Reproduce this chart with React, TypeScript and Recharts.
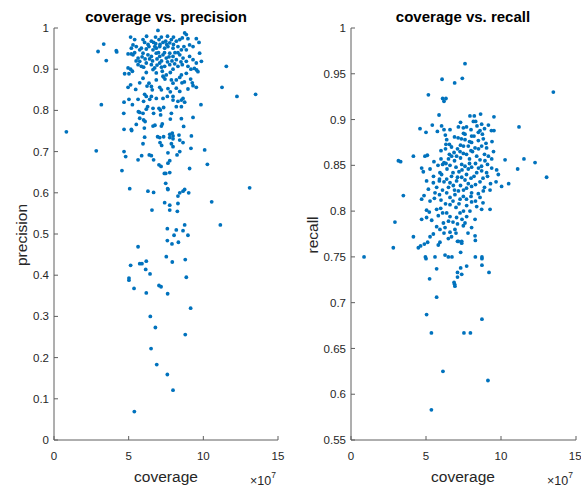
import React from 'react';
import { ScatterChart, Scatter, XAxis, YAxis } from 'recharts';

// coverage (x 1e7) vs precision
const precisionOutliers: [number, number][] = [
  [0.83, 0.748], [2.83, 0.702], [2.95, 0.943], [3.33, 0.961], [3.5, 0.921], [3.17, 0.814], [4.17, 0.945], [4.2, 0.942],
  [4.55, 0.654], [5.07, 0.61], [11.54, 0.907], [11.25, 0.856], [12.25, 0.834], [13.5, 0.839], [13.1, 0.612],
  [11.14, 0.522], [10.56, 0.578], [10.27, 0.669], [10.09, 0.704], [9.84, 0.814],
];
const precisionLow: [number, number][] = [
  [5.63, 0.469], [5.13, 0.424], [5.74, 0.428], [5.89, 0.428], [6.18, 0.434], [6.14, 0.414], [6.43, 0.403], [5.02, 0.393],
  [5.02, 0.388], [5.36, 0.368], [6.18, 0.357], [7.03, 0.375], [7.17, 0.372], [7.61, 0.355], [7.52, 0.445], [7.92, 0.432],
  [8.79, 0.438], [8.86, 0.395], [9.15, 0.32], [8.79, 0.256], [6.45, 0.3], [6.79, 0.273], [6.5, 0.222], [6.88, 0.183],
  [7.59, 0.159], [7.97, 0.121], [5.38, 0.069],
];
const precisionMid: [number, number][] = [
  [7.59, 0.484], [7.9, 0.476], [8.33, 0.48], [8.04, 0.497], [8.97, 0.497], [7.59, 0.513], [8.19, 0.51], [8.75, 0.522],
  [8.64, 0.508], [6.56, 0.558], [7.75, 0.558], [8.26, 0.555], [8.3, 0.574], [7.41, 0.576], [7.75, 0.57], [8.3, 0.592],
  [8.42, 0.6], [8.64, 0.604], [8.75, 0.608], [9.02, 0.6], [6.29, 0.604], [6.67, 0.601], [7.48, 0.623], [7.61, 0.61],
  [7.63, 0.608], [9.08, 0.659], [9.17, 0.708], [7.39, 0.647], [7.48, 0.647], [7.75, 0.649], [7.03, 0.668], [7.17, 0.664],
  [7.63, 0.672], [7.75, 0.678], [8.24, 0.692], [8.42, 0.7], [7.63, 0.697], [4.69, 0.7], [4.8, 0.688], [5.63, 0.68],
  [5.87, 0.69], [6.38, 0.692], [6.52, 0.69], [6.67, 0.68],
];
const precisionUpperMid: [number, number][] = [
  [4.69, 0.754], [5.18, 0.754], [5.2, 0.751], [4.67, 0.793], [5.51, 0.766], [6.0, 0.777], [6.1, 0.773], [6.05, 0.757],
  [5.96, 0.719], [6.07, 0.735], [6.63, 0.762], [6.76, 0.764], [7.25, 0.767], [7.19, 0.762], [6.94, 0.736], [7.08, 0.734],
  [7.34, 0.736], [7.1, 0.722], [7.21, 0.715], [7.75, 0.742], [7.92, 0.745], [7.97, 0.738], [7.75, 0.734], [7.97, 0.731],
  [8.37, 0.74], [8.42, 0.728], [7.86, 0.719], [7.97, 0.712], [8.64, 0.722], [8.68, 0.761], [9.2, 0.738], [8.53, 0.78],
  [7.79, 0.779], [9.31, 0.783], [5.74, 0.781],
];
const precisionHigh: [number, number][] = [
  [4.96, 0.903], [5.13, 0.9], [4.73, 0.889], [5.02, 0.889], [5.25, 0.895], [4.96, 0.856], [5.02, 0.827], [4.69, 0.82],
  [5.25, 0.814], [5.13, 0.862], [5.63, 0.827], [5.65, 0.797], [5.74, 0.795], [6.07, 0.839], [6.18, 0.834], [6.0, 0.822],
  [5.96, 0.793], [6.41, 0.827], [6.27, 0.809], [6.63, 0.805], [6.85, 0.829], [7.03, 0.805], [7.12, 0.801], [7.34, 0.807],
  [7.3, 0.829], [7.59, 0.834], [7.08, 0.856], [7.19, 0.85], [6.58, 0.85], [6.36, 0.866], [6.52, 0.858], [6.85, 0.874],
  [7.34, 0.881], [7.43, 0.876], [7.86, 0.874], [7.97, 0.866], [8.19, 0.874], [8.19, 0.854], [7.97, 0.834], [7.97, 0.825],
  [8.53, 0.825], [8.64, 0.829], [8.75, 0.82], [8.42, 0.846], [8.97, 0.852], [8.57, 0.867], [8.73, 0.869], [9.26, 0.867],
  [9.31, 0.86], [9.53, 0.856], [9.15, 0.876], [9.4, 0.902], [9.55, 0.898], [9.64, 0.894], [9.17, 0.9], [8.86, 0.89],
  [8.53, 0.886], [8.42, 0.88], [7.97, 0.9], [7.79, 0.892], [7.52, 0.886], [7.25, 0.895], [7.3, 0.883], [6.85, 0.891],
  [6.63, 0.899], [6.18, 0.892], [5.96, 0.878], [5.74, 0.867], [5.47, 0.851], [6.23, 0.859], [7.63, 0.853], [7.79, 0.845],
  [6.52, 0.834], [8.3, 0.822], [8.19, 0.809], [7.86, 0.793], [8.53, 0.809], [7.14, 0.789], [6.67, 0.793], [6.18, 0.803],
];
const precisionTop: [number, number][] = [
  [6.96, 0.994], [8.75, 0.988], [8.86, 0.984], [5.13, 0.978], [5.4, 0.972], [5.96, 0.972], [6.07, 0.965], [6.52, 0.968],
  [6.67, 0.965], [6.81, 0.962], [7.03, 0.972], [7.19, 0.978], [7.48, 0.968], [7.75, 0.964], [7.86, 0.972], [8.19, 0.968],
  [8.42, 0.972], [8.59, 0.976], [8.97, 0.974], [9.53, 0.974], [9.71, 0.965], [5.29, 0.959], [5.51, 0.955], [5.18, 0.951],
  [5.74, 0.947], [5.85, 0.951], [6.18, 0.949], [6.36, 0.955], [6.63, 0.947], [6.85, 0.951], [7.08, 0.955], [7.41, 0.951],
  [7.63, 0.955], [7.97, 0.951], [8.3, 0.955], [8.53, 0.947], [8.86, 0.947], [9.08, 0.959], [9.31, 0.955], [9.75, 0.939],
  [9.87, 0.919], [4.96, 0.937], [5.18, 0.937], [5.29, 0.935], [5.63, 0.927], [5.74, 0.919], [5.96, 0.939], [6.29, 0.935],
  [6.52, 0.931], [6.85, 0.939], [7.08, 0.931], [7.3, 0.935], [7.52, 0.927], [7.75, 0.939], [7.97, 0.931], [8.19, 0.923],
  [8.42, 0.935], [8.64, 0.927], [8.86, 0.919], [9.08, 0.931], [9.31, 0.923], [9.53, 0.915], [5.63, 0.911], [5.85, 0.907],
  [6.18, 0.915], [6.52, 0.911], [6.74, 0.903], [7.08, 0.915], [7.41, 0.907], [7.75, 0.911], [8.08, 0.913], [8.3, 0.907],
  [8.59, 0.911], [8.97, 0.907], [6.4, 0.925], [6.6, 0.92], [6.9, 0.925], [7.0, 0.94], [7.2, 0.92], [7.4, 0.94],
  [7.6, 0.918], [7.7, 0.93], [7.1, 0.96], [6.75, 0.955], [6.3, 0.96], [7.3, 0.965], [7.55, 0.96], [8.0, 0.96],
  [8.1, 0.94], [8.3, 0.94], [6.1, 0.925], [5.9, 0.93], [6.0, 0.905], [6.9, 0.91], [7.2, 0.905], [7.9, 0.92],
  [8.5, 0.918], [5.4, 0.94], [5.5, 0.92], [8.7, 0.955], [8.0, 0.978], [7.6, 0.98], [6.8, 0.978], [6.2, 0.98],
];

// coverage (x 1e7) vs recall
const recallSparse: [number, number][] = [
  [7.6, 0.961], [6.07, 0.944], [7.42, 0.945], [6.91, 0.94], [5.16, 0.927], [6.11, 0.923], [6.33, 0.923], [6.2, 0.92],
  [13.49, 0.93], [5.87, 0.905], [4.6, 0.89], [5.0, 0.886], [5.42, 0.894], [6.04, 0.893], [6.2, 0.889], [5.76, 0.887],
  [6.29, 0.883], [6.38, 0.878], [6.33, 0.873], [6.56, 0.873], [7.14, 0.88], [7.36, 0.879], [7.16, 0.892], [7.49, 0.891],
  [7.93, 0.904], [8.22, 0.904], [8.64, 0.906], [8.16, 0.898], [8.31, 0.898], [8.71, 0.895], [9.16, 0.894], [9.53, 0.903],
  [9.36, 0.888], [9.53, 0.888], [11.2, 0.892], [4.16, 0.86], [3.16, 0.855], [3.31, 0.854], [3.49, 0.817], [2.93, 0.788],
  [4.16, 0.772], [10.27, 0.856], [11.11, 0.846], [11.53, 0.857], [12.27, 0.853], [13.04, 0.837], [10.51, 0.83],
  [10.04, 0.827], [9.67, 0.832],
];
const recallCore: [number, number][] = [
  [7.6, 0.884], [8.04, 0.882], [8.49, 0.886], [8.76, 0.884], [7.6, 0.878], [8.04, 0.875], [8.49, 0.877], [8.82, 0.879],
  [7.82, 0.871], [8.27, 0.869], [8.71, 0.871], [9.04, 0.869], [4.93, 0.86], [5.09, 0.861], [4.71, 0.847], [4.82, 0.843],
  [5.27, 0.846], [5.53, 0.854], [6.11, 0.851], [6.2, 0.853], [6.33, 0.852], [5.93, 0.842], [6.04, 0.84], [6.56, 0.862],
  [6.71, 0.86], [6.87, 0.864], [7.04, 0.86], [7.27, 0.865], [7.49, 0.863], [7.38, 0.851], [7.6, 0.849], [7.82, 0.846],
  [8.04, 0.848], [8.38, 0.86], [8.6, 0.856], [8.93, 0.855], [9.16, 0.86], [9.38, 0.857], [8.38, 0.842], [8.71, 0.844],
  [9.04, 0.842], [9.38, 0.847], [9.71, 0.845], [9.82, 0.84], [5.04, 0.833], [5.16, 0.824], [5.49, 0.831], [5.71, 0.826],
  [5.89, 0.833], [4.71, 0.813], [4.87, 0.817], [5.27, 0.811], [5.56, 0.814], [5.04, 0.801], [5.22, 0.799], [5.71, 0.802],
  [5.98, 0.803], [6.11, 0.798], [6.38, 0.835], [6.6, 0.831], [6.82, 0.828], [7.04, 0.833], [7.16, 0.822], [7.38, 0.837],
  [7.6, 0.834], [7.82, 0.83], [8.04, 0.827], [6.38, 0.82], [6.6, 0.815], [6.93, 0.818], [7.27, 0.813], [7.49, 0.816],
  [7.71, 0.806], [8.04, 0.81], [8.38, 0.805], [8.71, 0.802], [9.27, 0.802], [8.04, 0.82], [8.49, 0.819], [8.82, 0.822],
  [9.27, 0.823], [6.38, 0.798], [6.6, 0.794], [7.04, 0.793], [7.27, 0.798], [7.71, 0.794], [7.93, 0.8],
];
const recallDense: [number, number][] = [
  [6.0, 0.866], [6.3, 0.868], [6.5, 0.857], [6.7, 0.87], [6.9, 0.855], [7.1, 0.868], [7.3, 0.858], [7.5, 0.871],
  [7.7, 0.862], [7.9, 0.857], [8.1, 0.865], [8.3, 0.852], [8.5, 0.868], [8.7, 0.849], [8.9, 0.862], [9.1, 0.851],
  [5.8, 0.85], [6.0, 0.857], [6.4, 0.846], [6.6, 0.85], [6.8, 0.842], [7.0, 0.848], [7.2, 0.843], [7.4, 0.845],
  [7.7, 0.84], [7.9, 0.852], [8.2, 0.838], [8.5, 0.847], [8.8, 0.836], [9.1, 0.838], [5.5, 0.838], [5.9, 0.835],
  [6.2, 0.832], [6.5, 0.826], [6.7, 0.838], [6.9, 0.823], [7.1, 0.837], [7.3, 0.828], [7.5, 0.823], [7.7, 0.825],
  [8.0, 0.836], [8.3, 0.829], [8.6, 0.832], [8.9, 0.826], [9.3, 0.83], [5.6, 0.82], [5.9, 0.818], [6.1, 0.823],
  [6.3, 0.808], [6.6, 0.807], [6.8, 0.811], [7.0, 0.804], [7.2, 0.808], [7.5, 0.8], [7.7, 0.813], [8.0, 0.816],
  [8.3, 0.811], [8.6, 0.815], [8.8, 0.809], [6.0, 0.812], [6.5, 0.789], [6.8, 0.788], [7.1, 0.786], [7.4, 0.791],
  [7.6, 0.787], [6.2, 0.776], [6.7, 0.772], [7.0, 0.776], [7.8, 0.776], [7.3, 0.897], [7.7, 0.892], [8.0, 0.889],
  [8.4, 0.893], [8.6, 0.888], [8.9, 0.89], [7.5, 0.885], [7.9, 0.876], [8.2, 0.882], [6.9, 0.881], [6.6, 0.889],
  [8.0, 0.866], [7.3, 0.872], [9.4, 0.876], [9.5, 0.865], [9.0, 0.874],
];
const recallLow: [number, number][] = [
  [4.71, 0.791], [5.04, 0.793], [5.38, 0.79], [5.82, 0.795], [6.16, 0.787], [5.71, 0.783], [5.93, 0.78], [6.27, 0.782],
  [6.6, 0.777], [6.93, 0.78], [7.49, 0.784], [8.04, 0.782], [8.27, 0.791], [5.27, 0.772], [5.49, 0.775], [5.93, 0.766],
  [6.49, 0.77], [7.16, 0.767], [7.38, 0.767], [8.27, 0.773], [4.49, 0.76], [4.64, 0.762], [4.89, 0.764], [5.11, 0.766],
  [5.82, 0.763], [7.1, 0.767], [7.38, 0.765], [8.29, 0.768], [2.82, 0.76], [0.87, 0.75], [4.96, 0.75], [5.0, 0.748],
  [5.6, 0.75], [5.71, 0.737], [6.27, 0.752], [6.49, 0.75], [6.73, 0.75], [7.31, 0.755], [7.31, 0.738], [7.71, 0.74],
  [7.1, 0.733], [7.38, 0.731], [7.1, 0.728], [6.87, 0.722], [6.91, 0.72], [6.93, 0.718], [5.24, 0.726], [8.29, 0.75],
  [8.73, 0.75], [8.73, 0.748], [8.73, 0.741], [9.2, 0.733], [5.71, 0.706], [5.04, 0.687], [5.36, 0.667], [7.53, 0.667],
  [7.96, 0.667], [8.73, 0.682], [6.13, 0.625], [9.13, 0.615], [5.36, 0.583],
];

const coverageTicks = [0, 5, 10, 15];
const precisionTicks = [0, 0.1, 0.2, 0.3, 0.4, 0.5, 0.6, 0.7, 0.8, 0.9, 1];
const recallTicks = [0.55, 0.6, 0.65, 0.7, 0.75, 0.8, 0.85, 0.9, 0.95, 1];

const toRows = (pts: [number, number][]) => pts.map(([x, y]) => ({ x, y }));
const precisionData = toRows([
  ...precisionOutliers, ...precisionLow, ...precisionMid, ...precisionUpperMid, ...precisionHigh, ...precisionTop,
]);
const recallData = toRows([...recallSparse, ...recallCore, ...recallDense, ...recallLow]);

const FONT = '"Liberation Sans", Arial, Helvetica, sans-serif';
const AXIS = '#5e5e5e';
const TEXT = '#262626';
const DOT = '#0072BD';

const Dot = (p: any) => <circle cx={p.cx} cy={p.cy} r={1.9} fill={DOT} />;

type PanelProps = {
  left: number;
  width: number;
  data: { x: number; y: number }[];
  yDomain: [number, number];
  yTicks: number[];
  yWidth: number;
  marginLeft: number;
  marginRight: number;
};

function Panel({ left, width, data, yDomain, yTicks, yWidth, marginLeft, marginRight }: PanelProps) {
  const tickStyle = { fontSize: 11.5, fill: TEXT, fontFamily: FONT };
  return (
    <div style={{ position: 'absolute', left, top: 0 }}>
      <ScatterChart
        width={width}
        height={490}
        margin={{ top: 28, right: marginRight, bottom: 20, left: marginLeft }}
      >
        <XAxis
          xAxisId="b"
          type="number"
          dataKey="x"
          domain={[0, 15]}
          ticks={coverageTicks}
          height={30}
          tickSize={-4}
          tickMargin={16}
          stroke={AXIS}
          tick={tickStyle}
          allowDataOverflow
        />
        <XAxis
          xAxisId="t"
          orientation="top"
          type="number"
          dataKey="x"
          domain={[0, 15]}
          ticks={coverageTicks}
          height={0}
          tickSize={-4}
          tick={false}
          stroke={AXIS}
          allowDataOverflow
        />
        <YAxis
          yAxisId="l"
          type="number"
          dataKey="y"
          domain={yDomain}
          ticks={yTicks}
          width={yWidth}
          tickSize={-4}
          tickMargin={9}
          stroke={AXIS}
          tick={tickStyle}
          allowDataOverflow
        />
        <YAxis
          yAxisId="r"
          orientation="right"
          type="number"
          dataKey="y"
          domain={yDomain}
          ticks={yTicks}
          width={0}
          tickSize={-4}
          tick={false}
          stroke={AXIS}
          allowDataOverflow
        />
        <Scatter
          data={data}
          xAxisId="b"
          yAxisId="l"
          fill={DOT}
          shape={Dot}
          isAnimationActive={false}
        />
      </ScatterChart>
    </div>
  );
}

export default function App() {
  return (
    <div style={{ position: 'absolute', left: 0, top: 0, width: 581, height: 490, background: '#fff', overflow: 'hidden' }}>
      <Panel
        left={0}
        width={290}
        data={precisionData}
        yDomain={[0, 1]}
        yTicks={precisionTicks}
        yWidth={40}
        marginLeft={14}
        marginRight={12}
      />
      <Panel
        left={290}
        width={291}
        data={recallData}
        yDomain={[0.55, 1]}
        yTicks={recallTicks}
        yWidth={45}
        marginLeft={16}
        marginRight={5}
      />
      <svg
        width={581}
        height={490}
        style={{ position: 'absolute', left: 0, top: 0, pointerEvents: 'none' }}
        fontFamily={FONT}
      >
        <text x={166} y={22} textAnchor="middle" fontSize={15} fontWeight="bold" fill="#000">coverage vs. precision</text>
        <text x={463} y={22} textAnchor="middle" fontSize={15} fontWeight="bold" fill="#000">coverage vs. recall</text>
        <text x={166} y={482} textAnchor="middle" fontSize={15.5} fill={TEXT}>coverage</text>
        <text x={463} y={482} textAnchor="middle" fontSize={15.5} fill={TEXT}>coverage</text>
        <text transform="translate(27,235) rotate(-90)" textAnchor="middle" fontSize={15.5} fill={TEXT}>precision</text>
        <text transform="translate(318,235) rotate(-90)" textAnchor="middle" fontSize={15.5} fill={TEXT}>recall</text>
        <text x={250} y={485} fontSize={12.5} fill={TEXT}>×10<tspan dy={-7} fontSize={8.5}>7</tspan></text>
        <text x={547} y={485} fontSize={12.5} fill={TEXT}>×10<tspan dy={-7} fontSize={8.5}>7</tspan></text>
      </svg>
    </div>
  );
}
